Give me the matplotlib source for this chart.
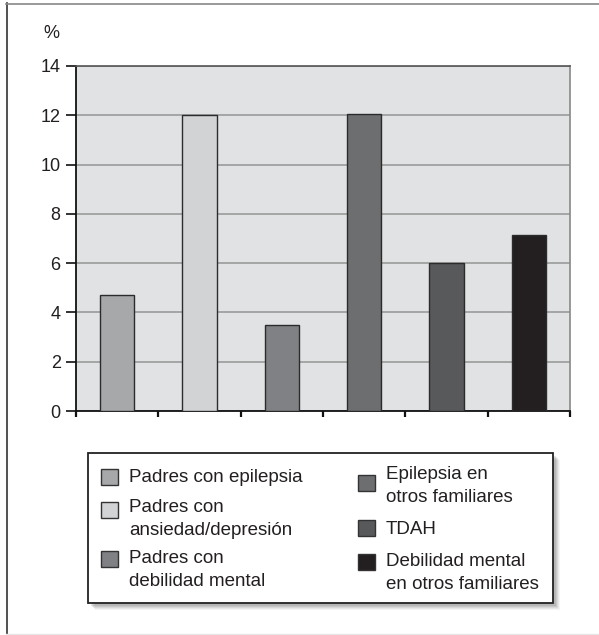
import matplotlib.pyplot as plt
from matplotlib.patches import Rectangle
from matplotlib.lines import Line2D

categories = ['Padres con epilepsia', 'Padres con\nansiedad/depresión', 'Padres con\ndebilidad mental',
              'Epilepsia en\notros familiares', 'TDAH', 'Debilidad mental\nen otros familiares']
values = [4.7, 12.0, 3.5, 12.05, 6.0, 7.15]
colors = ['#a7a8aa', '#d2d3d5', '#808184', '#6d6e70', '#58595b', '#231f20']
yticks = [0, 2, 4, 6, 8, 10, 12, 14]

plt.rcParams['font.family'] = ['Liberation Sans', 'DejaVu Sans']
W, H = 599, 635
fig = plt.figure(figsize=(W / 100, H / 100), dpi=100)


def fx(px):
    return px / W


def fy(py):
    return 1 - py / H


ax = fig.add_axes([fx(76), fy(411), fx(570) - fx(76), fy(66) - fy(411)])
ax.set_facecolor('#e1e2e4')
x = list(range(len(values)))
ax.bar(x, values, width=0.42, color=colors, edgecolor='#2b2b2b', linewidth=1.0, zorder=3)
ax.set_xlim(-0.5, len(values) - 0.5)
ax.set_ylim(0, 14)
ax.set_yticks(yticks)
ax.set_yticklabels([str(t) for t in yticks], fontsize=13, color='#231f20')
ax.yaxis.grid(True, color='#9a9a9a', linewidth=1.2, zorder=1)
ax.set_axisbelow(True)
ax.set_xticks([i - 0.5 for i in range(len(values) + 1)])
ax.set_xticklabels([])
ax.tick_params(axis='x', direction='out', length=4, width=1.6, color='#111111')
ax.tick_params(axis='y', direction='out', length=7, width=1.2, color='#111111', pad=4)
ax.spines['left'].set_color('#111111')
ax.spines['bottom'].set_color('#111111')
ax.spines['left'].set_linewidth(1.3)
ax.spines['bottom'].set_linewidth(1.3)
ax.spines['top'].set_color('#555555')
ax.spines['right'].set_color('#888888')
ax.spines['top'].set_linewidth(1.2)
ax.spines['right'].set_linewidth(1.2)

fig.text(fx(51), fy(34), '%', fontsize=13, ha='center', va='center', color='#231f20')

# outer frame
fig.add_artist(Line2D([fx(6.5), fx(6.5)], [fy(3), fy(634)], color='#333333', lw=1.2))
fig.add_artist(Line2D([fx(6), fx(599)], [fy(3.5), fy(3.5)], color='#888888', lw=1.2))
fig.add_artist(Line2D([fx(6), fx(599)], [fy(633.5), fy(633.5)], color='#e6e6e6', lw=1.0))

# legend box with soft shadow
lx0, lx1, ly0, ly1 = 88, 553, 453, 603
for off, a in [(7, 0.06), (6, 0.08), (5, 0.1), (4, 0.12), (3, 0.14)]:
    fig.add_artist(Rectangle((fx(lx0 + off), fy(ly1 + off)), fx(lx1) - fx(lx0), fy(ly0) - fy(ly1),
                             transform=fig.transFigure, facecolor='#555555', edgecolor='none', alpha=a))
fig.add_artist(Rectangle((fx(lx0), fy(ly1)), fx(lx1) - fx(lx0), fy(ly0) - fy(ly1),
                         transform=fig.transFigure, facecolor='white', edgecolor='#222222', lw=1.3))

text_x = [129, 129, 129, 386, 386, 386]
box_x = [101, 101, 101, 358, 358, 358]
first_line = [477, 508, 559, 475, 530, 562]
box_cy = [477, 510, 559, 483, 528, 562]
for i, lab in enumerate(categories):
    nlines = lab.count('\n') + 1
    cy = first_line[i] + (nlines - 1) * 22 / 2
    fig.text(fx(text_x[i]), fy(cy), lab, fontsize=13.5, ha='left', va='center',
             linespacing=1.4, color='#231f20')
    fig.add_artist(Rectangle((fx(box_x[i]), fy(box_cy[i] + 8)), fx(17), fy(0) - fy(16),
                             transform=fig.transFigure, facecolor=colors[i],
                             edgecolor='#333333', lw=1.0))

plt.savefig('out.png', dpi=100)
